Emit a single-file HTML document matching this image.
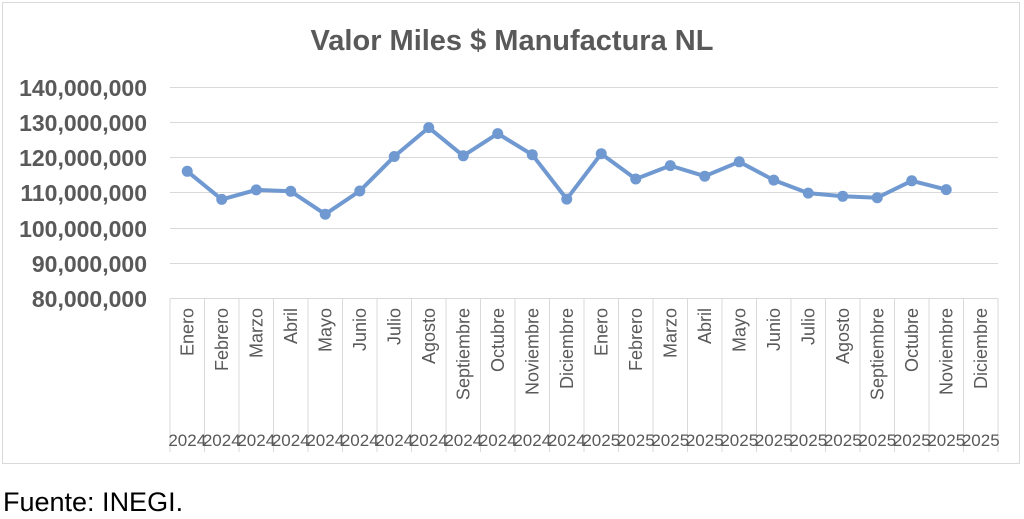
<!DOCTYPE html>
<html><head><meta charset="utf-8"><style>body{margin:0;background:#fff}svg{display:block}</style></head><body>
<svg width="1024" height="519" xmlns="http://www.w3.org/2000/svg" font-family="Liberation Sans, sans-serif">
<rect x="2.5" y="2.5" width="1017" height="461" fill="#fff" stroke="#d9d9d9"/>
<text x="512" y="50" text-anchor="middle" font-size="29" font-weight="bold" fill="#595959">Valor Miles $ Manufactura NL</text>
<g stroke="#d9d9d9" stroke-width="1">
<line x1="170" x2="998" y1="87.5" y2="87.5"/><line x1="170" x2="998" y1="122.5" y2="122.5"/>
<line x1="170" x2="998" y1="157.5" y2="157.5"/><line x1="170" x2="998" y1="192.5" y2="192.5"/>
<line x1="170" x2="998" y1="228.5" y2="228.5"/><line x1="170" x2="998" y1="263.5" y2="263.5"/>
<line x1="170" x2="998" y1="298.5" y2="298.5"/>
<line x1="170" x2="170" y1="298" y2="452"/><line x1="204.5" x2="204.5" y1="298" y2="452"/>
<line x1="239" x2="239" y1="298" y2="452"/><line x1="273.5" x2="273.5" y1="298" y2="452"/>
<line x1="308" x2="308" y1="298" y2="452"/><line x1="342.5" x2="342.5" y1="298" y2="452"/>
<line x1="377" x2="377" y1="298" y2="452"/><line x1="411.5" x2="411.5" y1="298" y2="452"/>
<line x1="446" x2="446" y1="298" y2="452"/><line x1="480.5" x2="480.5" y1="298" y2="452"/>
<line x1="515" x2="515" y1="298" y2="452"/><line x1="549.5" x2="549.5" y1="298" y2="452"/>
<line x1="584" x2="584" y1="298" y2="452"/><line x1="618.5" x2="618.5" y1="298" y2="452"/>
<line x1="653" x2="653" y1="298" y2="452"/><line x1="687.5" x2="687.5" y1="298" y2="452"/>
<line x1="722" x2="722" y1="298" y2="452"/><line x1="756.5" x2="756.5" y1="298" y2="452"/>
<line x1="791" x2="791" y1="298" y2="452"/><line x1="825.5" x2="825.5" y1="298" y2="452"/>
<line x1="860" x2="860" y1="298" y2="452"/><line x1="894.5" x2="894.5" y1="298" y2="452"/>
<line x1="929" x2="929" y1="298" y2="452"/><line x1="963.5" x2="963.5" y1="298" y2="452"/>
<line x1="998" x2="998" y1="298" y2="452"/>
</g>
<g font-size="23" font-weight="bold" fill="#595959" text-anchor="end">
<text x="147" y="96">140,000,000</text><text x="147" y="131">130,000,000</text>
<text x="147" y="166">120,000,000</text><text x="147" y="201">110,000,000</text>
<text x="147" y="237">100,000,000</text><text x="147" y="272">90,000,000</text>
<text x="147" y="307">80,000,000</text>
</g>
<g font-size="18" fill="#595959" text-anchor="end">
<text transform="translate(193.5,308) rotate(-90)">Enero</text>
<text transform="translate(228,308) rotate(-90)">Febrero</text>
<text transform="translate(262.5,308) rotate(-90)">Marzo</text>
<text transform="translate(297,308) rotate(-90)">Abril</text>
<text transform="translate(331.5,308) rotate(-90)">Mayo</text>
<text transform="translate(366,308) rotate(-90)">Junio</text>
<text transform="translate(400.5,308) rotate(-90)">Julio</text>
<text transform="translate(435,308) rotate(-90)">Agosto</text>
<text transform="translate(469.5,308) rotate(-90)">Septiembre</text>
<text transform="translate(504,308) rotate(-90)">Octubre</text>
<text transform="translate(538.5,308) rotate(-90)">Noviembre</text>
<text transform="translate(573,308) rotate(-90)">Diciembre</text>
<text transform="translate(607.5,308) rotate(-90)">Enero</text>
<text transform="translate(642,308) rotate(-90)">Febrero</text>
<text transform="translate(676.5,308) rotate(-90)">Marzo</text>
<text transform="translate(711,308) rotate(-90)">Abril</text>
<text transform="translate(745.5,308) rotate(-90)">Mayo</text>
<text transform="translate(780,308) rotate(-90)">Junio</text>
<text transform="translate(814.5,308) rotate(-90)">Julio</text>
<text transform="translate(849,308) rotate(-90)">Agosto</text>
<text transform="translate(883.5,308) rotate(-90)">Septiembre</text>
<text transform="translate(918,308) rotate(-90)">Octubre</text>
<text transform="translate(952.5,308) rotate(-90)">Noviembre</text>
<text transform="translate(987,308) rotate(-90)">Diciembre</text>
</g>
<g font-size="17" fill="#595959" text-anchor="middle">
<text x="187.25" y="446">2024</text><text x="221.75" y="446">2024</text><text x="256.25" y="446">2024</text>
<text x="290.75" y="446">2024</text><text x="325.25" y="446">2024</text><text x="359.75" y="446">2024</text>
<text x="394.25" y="446">2024</text><text x="428.75" y="446">2024</text><text x="463.25" y="446">2024</text>
<text x="497.75" y="446">2024</text><text x="532.25" y="446">2024</text><text x="566.75" y="446">2024</text>
<text x="601.25" y="446">2025</text><text x="635.75" y="446">2025</text><text x="670.25" y="446">2025</text>
<text x="704.75" y="446">2025</text><text x="739.25" y="446">2025</text><text x="773.75" y="446">2025</text>
<text x="808.25" y="446">2025</text><text x="842.75" y="446">2025</text><text x="877.25" y="446">2025</text>
<text x="911.75" y="446">2025</text><text x="946.25" y="446">2025</text><text x="980.75" y="446">2025</text>
</g>
<polyline fill="none" stroke="#6f99d0" stroke-width="4" stroke-linejoin="round" points="187.25,171.3 221.75,199.4 256.25,189.9 290.75,191.3 325.25,214.2 359.75,191 394.25,156.5 428.75,127.6 463.25,155.8 497.75,133.6 532.25,154.7 566.75,199.1 601.25,153.7 635.75,179 670.25,165.6 704.75,176.2 739.25,161.8 773.75,180.1 808.25,193.1 842.75,196.3 877.25,197.7 911.75,180.8 946.25,189.6"/>
<g fill="#6f99d0">
<circle cx="187.25" cy="171.3" r="5.5"/><circle cx="221.75" cy="199.4" r="5.5"/><circle cx="256.25" cy="189.9" r="5.5"/>
<circle cx="290.75" cy="191.3" r="5.5"/><circle cx="325.25" cy="214.2" r="5.5"/><circle cx="359.75" cy="191" r="5.5"/>
<circle cx="394.25" cy="156.5" r="5.5"/><circle cx="428.75" cy="127.6" r="5.5"/><circle cx="463.25" cy="155.8" r="5.5"/>
<circle cx="497.75" cy="133.6" r="5.5"/><circle cx="532.25" cy="154.7" r="5.5"/><circle cx="566.75" cy="199.1" r="5.5"/>
<circle cx="601.25" cy="153.7" r="5.5"/><circle cx="635.75" cy="179" r="5.5"/><circle cx="670.25" cy="165.6" r="5.5"/>
<circle cx="704.75" cy="176.2" r="5.5"/><circle cx="739.25" cy="161.8" r="5.5"/><circle cx="773.75" cy="180.1" r="5.5"/>
<circle cx="808.25" cy="193.1" r="5.5"/><circle cx="842.75" cy="196.3" r="5.5"/><circle cx="877.25" cy="197.7" r="5.5"/>
<circle cx="911.75" cy="180.8" r="5.5"/><circle cx="946.25" cy="189.6" r="5.5"/>
</g>
<text x="3" y="511" font-size="27" fill="#000">Fuente: INEGI.</text>
</svg>
</body></html>
